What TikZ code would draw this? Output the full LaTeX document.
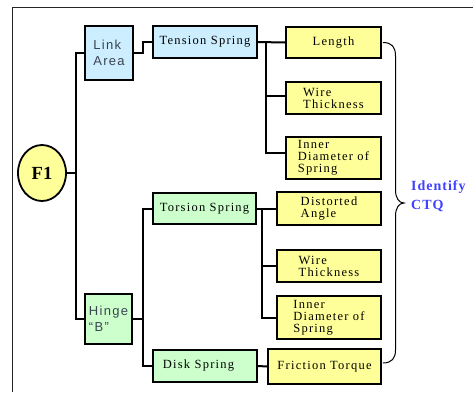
\documentclass[tikz,border=0pt]{standalone}
\usepackage{fontspec}
\setmainfont{Liberation Serif}
\newfontfamily\boxfont{Liberation Serif}[LetterSpace=10]
\newfontfamily\sansbox{Liberation Sans}[LetterSpace=10]
\newfontfamily\ctqfont{Liberation Serif}[LetterSpace=7]
\usetikzlibrary{shapes.geometric}
\definecolor{boxblue}{HTML}{CCEEFF}
\definecolor{boxgreen}{HTML}{CCFFCC}
\definecolor{boxyellow}{HTML}{FFFF99}
\definecolor{ctqblue}{HTML}{4040FF}
\definecolor{sanstext}{HTML}{3A4550}
\tikzset{
  box/.style={draw=black, line width=1.8pt, inner sep=0pt, align=left,
    font=\boxfont\fontsize{12.5}{12}\selectfont},
  bluebox/.style={box, fill=boxblue},
  greenbox/.style={box, fill=boxgreen},
  yellowbox/.style={box, fill=boxyellow},
  sansnode/.style={font=\sansbox\fontsize{13}{16}\selectfont, text=sanstext},
  conn/.style={draw=black, line width=2pt},
  bracestyle/.style={draw=black, line width=1pt},
}
\begin{document}
\begin{tikzpicture}[x=1pt,y=-1pt]
\useasboundingbox (0,0) rectangle (473,392);
% frame
\draw[line width=1pt, black!85] (12,392) -- (12,7) -- (473,7);

% root
\node[ellipse, draw=black, line width=1.8pt, fill=boxyellow, minimum width=48, minimum height=56, inner sep=0pt,
  font=\bfseries\fontsize{18.5}{19}\selectfont] (f1) at (42,173) {F1};

% level 1
\node[bluebox, sansnode, minimum width=48, minimum height=54] (link) at (109,53) {Link\\Area};
\node[greenbox, sansnode, minimum width=47, minimum height=50] (hinge) at (108.5,319) {Hinge\\“B”};

% level 2
\node[bluebox, minimum width=104, minimum height=32] (tension) at (205,42) {Tension Spring};
\node[greenbox, minimum width=103, minimum height=31] (torsion) at (204.5,208.5) {Torsion Spring};
\node[greenbox, minimum width=104, minimum height=32] (disk) at (205,366) {\hspace*{-13pt}Disk Spring};

% level 3
\node[yellowbox, minimum width=95, minimum height=31] (length) at (333.5,42.5) {Length};
\node[yellowbox, minimum width=95, minimum height=32] (wire1) at (333.5,98) {Wire\\Thickness};
\node[yellowbox, minimum width=95, minimum height=42] (inner1) at (333.5,158) {Inner\\Diameter of\\Spring};
\node[yellowbox, minimum width=104, minimum height=33] (distorted) at (329,208.5) {Distorted\\Angle};
\node[yellowbox, minimum width=104, minimum height=32] (wire2) at (329,266) {Wire\\Thickness};
\node[yellowbox, minimum width=104, minimum height=43] (inner2) at (329,317.5) {Inner\\Diameter of\\Spring};
\node[yellowbox, minimum width=113, minimum height=35] (friction) at (324.5,366.5) {Friction Torque};

% CTQ label
\node[anchor=west, inner sep=0pt, align=left, text=ctqblue,
  font=\ctqfont\bfseries\fontsize{14}{19}\selectfont] (ctq) at (411,196.5) {Identify\\CTQ};

% junctions
\coordinate (j1) at (76,173);
\coordinate (j2) at (143,53);
\coordinate (j3) at (266,42);
\coordinate (j4) at (143,319);
\coordinate (j5) at (262,208.5);
\coordinate (tip) at (404,203);

% connectors
\draw[conn] (f1.east) -- (j1);
\draw[conn] (j1) |- (link.west);
\draw[conn] (j1) |- (hinge.west);
\draw[conn] (link.east) -- (j2) |- (tension.west);
\draw[conn] (tension.east) -- (length.west);
\draw[conn] (j3) |- ([yshift=2pt]wire1.west);
\draw[conn] (j3) |- ([yshift=5pt]inner1.west);
\draw[conn] (hinge.east) -- (j4);
\draw[conn] (j4) |- (torsion.west);
\draw[conn] (j4) |- (disk.west);
\draw[conn] (torsion.east) -- (distorted.west);
\draw[conn] (j5) |- (wire2.west);
\draw[conn] (j5) |- (inner2.west);
\draw[conn] (disk.east) -- (friction.west);

% brace
\draw[bracestyle] ([xshift=0.9pt]length.east) .. controls (392,42.5) and (395.5,47) .. (395.5,56)
  -- (395.5,190) .. controls (395.5,198) and (399,203) .. (tip)
  .. controls (399,203) and (395.5,208) .. (395.5,216)
  -- (395.5,350) .. controls (395.5,358) and (392,363) .. ([xshift=0.9pt,yshift=3.5pt]friction.east);
\end{tikzpicture}
\end{document}
